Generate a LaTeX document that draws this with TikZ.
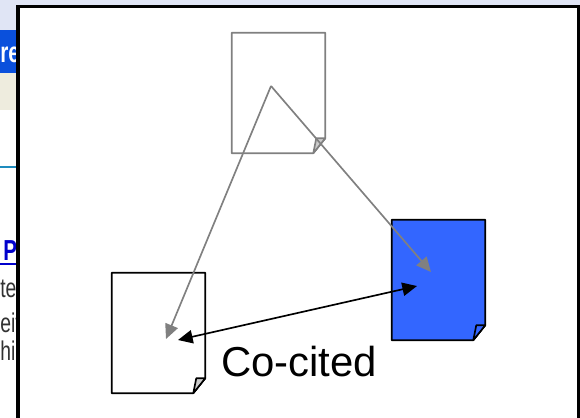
\documentclass[tikz,border=0pt]{standalone}
\usepackage{fontspec}
\setmainfont{Liberation Sans}
\usepackage{tikz}
\usetikzlibrary{arrows.meta, positioning}

\definecolor{docblue}{RGB}{51,102,255}
\definecolor{docgray}{RGB}{128,128,128}
\definecolor{barblue}{RGB}{10,80,220}
\definecolor{barbeige}{RGB}{238,236,222}
\definecolor{topband}{RGB}{224,229,245}
\definecolor{rulecyan}{RGB}{30,140,190}
\definecolor{pagetext}{RGB}{50,50,50}

\tikzset{
  page/.style={rectangle, minimum width=69.75pt, minimum height=90pt, inner sep=0pt},
  fold/.style={line width=1.25pt, line join=round},
  cites/.style={draw=docgray, line width=1.25pt, -{Triangle[length=11pt,width=10pt]}},
  cocites/.style={draw=black, line width=1.25pt, {Triangle[length=11pt,width=10pt]}-{Triangle[length=11pt,width=10pt]}},
  scrap/.style={inner sep=0pt, anchor=base west, font=\fontsize{14.5pt}{14.5pt}\selectfont, text=pagetext}
}

% the screenshot text is stretched upwards
\newcommand{\tallscrap}[1]{\scalebox{1}[1.4]{#1}}

% page with a dog-ear at the lower right
\newcommand{\docpage}[4]{
  \node [page] (#1) at (#2) {};
  \draw [fold, draw=#3, fill=#4] (#1.north west) -- (#1.north east) -- ([yshift=11.25pt]#1.south east)
    -- ([xshift=-9pt]#1.south east) -- (#1.south west) -- cycle;
  \draw [fold, draw=#3, fill=#1fold] ([xshift=-9pt]#1.south east) -- ([xshift=-6.75pt,yshift=11.25pt]#1.south east)
    -- ([yshift=11.25pt]#1.south east) -- cycle;
}
\colorlet{citingfold}{black!20}
\colorlet{leftfold}{black!20}
\colorlet{rightfold}{docblue}

\begin{document}
\begin{tikzpicture}[x=0.75pt, y=-0.75pt]
    \useasboundingbox (0,0) rectangle (580,417);
    % screenshot behind the slide
    \fill [white] (0,0) rectangle (580,417);
    \fill [topband] (0,0) rectangle (580,30);
    \fill [barblue] (0,30) rectangle (20,73);
    \fill [barbeige] (0,73) rectangle (20,110);
    \draw [rulecyan, line width=1.5pt] (0,167) -- (20,167);
    \node [scrap, font=\bfseries\fontsize{15.5pt}{15.5pt}\selectfont, text=white] (bartext) at (0,63) {\tallscrap{re}};
    \node [scrap, font=\bfseries\fontsize{15.5pt}{15.5pt}\selectfont, text=blue!80!black] (linktext) at (3,260) {\tallscrap{P}};
    \draw [blue!80!black, line width=0.8pt] (0,264) -- (20,264);
    \node [scrap] (scrapa) at (0,297) {\tallscrap{te}};
    \node [scrap] (scrapb) at (0,332) {\tallscrap{eit}};
    \node [scrap] (scrapc) at (0,360) {\tallscrap{hi}};
    % slide
    \fill [white] (18,6.5) rectangle (578.5,417);
    \draw [black, line width=2.6pt] (18.2,420) -- (18.2,6.7) -- (578.5,6.7) -- (578.5,420);

    \docpage{citing}{278.5,93}{docgray}{white}
    \docpage{left}{158.5,333}{black}{white}
    \docpage{right}{438.5,280}{black}{docblue}

    \coordinate (citingpoint) at (271,86);
    \coordinate (lefttip) at (166,339);
    \coordinate (righttip) at (431,272);
    \coordinate (leftend) at (178,340);
    \coordinate (rightend) at (417,286);

    \draw [cites] (citingpoint) -- (lefttip);
    \draw [cites] (citingpoint) -- (righttip);
    \draw [cocites] (leftend) -- (rightend);

    \node [inner sep=0pt, font=\fontsize{31.4pt}{31.4pt}\selectfont] (cocited) at (299,362) {Co-cited};
\end{tikzpicture}
\end{document}
